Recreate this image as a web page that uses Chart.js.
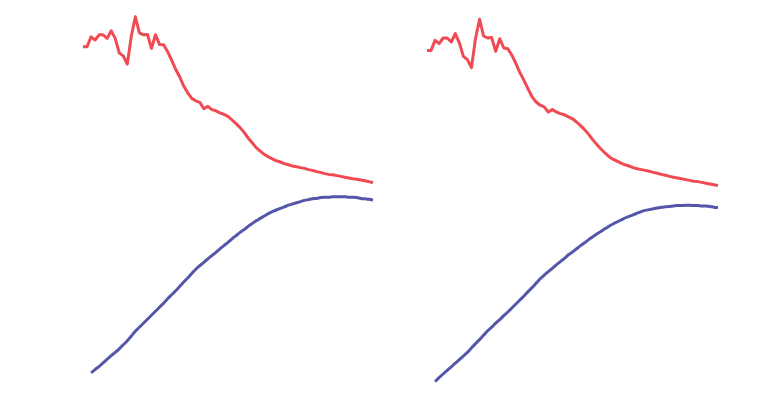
<!DOCTYPE html>
<html>
<head>
<meta charset="utf-8">
<script src="https://cdn.jsdelivr.net/npm/chart.js@4/dist/chart.umd.min.js"></script>
<style>
  html, body { margin: 0; padding: 0; background: #fff; }
  .wrap { position: absolute; top: 0; width: 384px; height: 402px; }
</style>
</head>
<body>
<div class="wrap" style="left:0"><canvas id="leftChart" width="384" height="402"></canvas></div>
<div class="wrap" style="left:384px"><canvas id="rightChart" width="384" height="402"></canvas></div>
<script>
// years on the x axis (not shown)
const years = [];
for (let y = 1950; y <= 2022; y++) years.push(String(y));

// left panel
const leftRed = [88.3, 88.3, 90.8, 90.0, 91.3, 91.3, 90.4, 92.3, 90.4, 86.8,
    86.0, 84.0, 91.0, 95.8, 91.8, 91.3, 91.4, 87.9, 91.3, 88.9,
    88.8, 87.1, 85.0, 82.7, 80.8, 78.5, 76.8, 75.4, 74.8, 74.4,
    72.8, 73.4, 72.6, 72.3, 71.8, 71.4, 70.9, 70.0, 69.1, 68.1,
    66.9, 65.5, 64.3, 63.1, 62.2, 61.4, 60.8, 60.3, 59.8, 59.5,
    59.1, 58.8, 58.5, 58.3, 58.1, 57.9, 57.6, 57.4, 57.1, 56.9,
    56.6, 56.4, 56.3, 56.1, 55.9, 55.7, 55.5, 55.3, 55.2, 55.0,
    54.8, 54.6, 54.3];
const leftBlue = [null, null, 6.8, 7.6, 8.4, 9.3, 10.2, 11.1, 11.9, 12.8,
    13.8, 14.8, 16.0, 17.2, 18.2, 19.2, 20.2, 21.2, 22.2, 23.2,
    24.2, 25.3, 26.3, 27.3, 28.4, 29.5, 30.5, 31.6, 32.7, 33.6,
    34.4, 35.3, 36.1, 36.9, 37.8, 38.6, 39.4, 40.3, 41.1, 41.9,
    42.6, 43.4, 44.1, 44.8, 45.4, 46.0, 46.6, 47.1, 47.5, 47.9,
    48.3, 48.7, 49.0, 49.3, 49.6, 49.9, 50.1, 50.3, 50.4, 50.6,
    50.7, 50.7, 50.8, 50.8, 50.8, 50.8, 50.7, 50.7, 50.6, 50.4,
    50.3, 50.2, 50.0];

// right panel
const rightRed = [87.4, 87.4, 89.9, 89.1, 90.5, 90.5, 89.5, 91.6, 89.3, 85.9,
    85.1, 83.1, 90.3, 95.2, 91.0, 90.5, 90.6, 87.2, 90.3, 88.0,
    87.8, 86.2, 84.1, 81.8, 79.9, 77.8, 75.8, 74.5, 73.7, 73.3,
    72.0, 72.6, 72.0, 71.6, 71.3, 70.8, 70.3, 69.5, 68.6, 67.6,
    66.4, 65.1, 63.9, 62.8, 61.8, 60.9, 60.2, 59.7, 59.2, 58.8,
    58.5, 58.1, 57.8, 57.6, 57.4, 57.2, 56.9, 56.7, 56.4, 56.2,
    55.9, 55.7, 55.5, 55.3, 55.1, 54.9, 54.7, 54.6, 54.4, 54.2,
    54.0, 53.8, 53.6];
const rightBlue = [null, null, 4.6, 5.6, 6.5, 7.4, 8.3, 9.2, 10.1, 11.0,
    11.9, 13.0, 14.1, 15.1, 16.2, 17.3, 18.2, 19.2, 20.1, 21.1,
    22.0, 23.0, 24.0, 25.0, 26.0, 27.1, 28.1, 29.2, 30.3, 31.2,
    32.1, 32.9, 33.8, 34.6, 35.4, 36.3, 37.0, 37.8, 38.6, 39.3,
    40.1, 40.8, 41.5, 42.1, 42.8, 43.4, 44.0, 44.5, 45.0, 45.5,
    45.9, 46.3, 46.7, 47.1, 47.4, 47.6, 47.8, 48.0, 48.2, 48.3,
    48.4, 48.5, 48.6, 48.6, 48.7, 48.7, 48.6, 48.6, 48.5, 48.5,
    48.4, 48.2, 48.1];

const RED = '#f04a52';
const BLUE = '#5457a9';

function makeChart(id, red, blue, padLeft, padRight) {
    const line = (data, color, smooth) => ({
        data: data,
        borderColor: color,
        borderWidth: 3,
        pointRadius: 0,
        tension: smooth ? 0.4 : 0,
        cubicInterpolationMode: smooth ? 'monotone' : 'default',
        fill: false,
        borderJoinStyle: 'round',
        spanGaps: false
    });
    return new Chart(document.getElementById(id), {
        type: 'line',
        data: {
            labels: years,
            datasets: [line(red, RED, false), line(blue, BLUE, true)]
        },
        options: {
            responsive: false,
            animation: false,
            layout: { padding: { left: padLeft, right: padRight, top: 0, bottom: 2 } },
            plugins: { legend: { display: false }, tooltip: { enabled: false } },
            scales: {
                x: { display: false, offset: false },
                y: { display: false, min: 0, max: 100 }
            }
        }
    });
}

makeChart('leftChart', leftRed, leftBlue, 83, 11);
makeChart('rightChart', rightRed, rightBlue, 43, 50);
</script>
</body>
</html>
